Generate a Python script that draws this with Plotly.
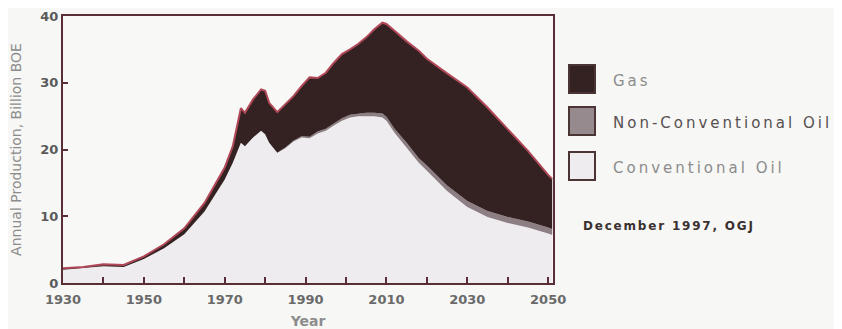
import plotly.graph_objects as go

years = [1930, 1935, 1940, 1945, 1950, 1955, 1960, 1965, 1970, 1972, 1974, 1975, 1977, 1979, 1980,
         1981, 1983, 1985, 1987, 1989, 1991, 1993, 1995, 1997, 1999, 2001, 2003, 2005, 2007, 2009,
         2010, 2012, 2015, 2018, 2020, 2025, 2030, 2035, 2040, 2045, 2050, 2051]

conventional_oil = [2.0, 2.2, 2.5, 2.4, 3.6, 5.2, 7.3, 10.7, 15.5, 18.0, 21.0, 20.5, 21.8, 22.8, 22.3,
                    21.0, 19.5, 20.2, 21.2, 21.8, 21.7, 22.4, 22.8, 23.6, 24.3, 24.8, 25.0, 25.0, 25.0, 24.8,
                    24.3, 22.5, 20.3, 18.0, 16.8, 13.8, 11.4, 9.9, 9.0, 8.3, 7.4, 7.2]

non_conventional_oil = [0, 0, 0, 0, 0, 0, 0, 0, 0, 0, 0, 0, 0, 0, 0,
                        0, 0, 0.1, 0.1, 0.2, 0.2, 0.3, 0.3, 0.3, 0.4, 0.4, 0.4, 0.5, 0.5, 0.6,
                        0.6, 0.6, 0.7, 0.7, 0.8, 0.8, 0.9, 0.9, 0.9, 0.9, 0.9, 0.9]

gas = [0.2, 0.2, 0.3, 0.3, 0.4, 0.6, 0.9, 1.3, 1.8, 2.5, 5.2, 5.0, 5.7, 6.2, 6.5,
       6.0, 6.1, 6.5, 6.7, 7.5, 8.9, 8.0, 8.4, 9.1, 9.6, 9.8, 10.4, 11.3, 12.5, 13.6,
       13.9, 14.7, 15.2, 16.1, 16.0, 16.8, 17.0, 15.5, 13.1, 10.6, 7.9, 7.5]

x_tick_vals = [1930, 1950, 1970, 1990, 2010, 2030, 2050]
x_tick_text = ["1930", "1950", "1970", "1990", "2010", "2030", "2050"]
y_tick_vals = [0, 10, 20, 30, 40]

legend_names = ["Gas", "Non-Conventional Oil", "Conventional Oil"]
legend_fills = ["#342222", "#978a8e", "#efecf0"]
legend_text_colors = ["#8c8c8c", "#585050", "#8c8c8c"]
source_note = "December 1997, OGJ"

# page places the figure 8px in from the top-left corner
OFF = 8
W, H = 842 - OFF, 329 - OFF
PL, PR, PT, PB = 63 - OFF, 553 - OFF, 16 - OFF, 283 - OFF  # plot area in figure px

fig = go.Figure()
fig.add_trace(go.Scatter(x=years, y=conventional_oil, name="Conventional Oil", stackgroup="one",
                         mode="lines", line=dict(width=0, color="#efecf0"), fillcolor="#efecf0",
                         showlegend=False))
fig.add_trace(go.Scatter(x=years, y=non_conventional_oil, name="Non-Conventional Oil", stackgroup="one",
                         mode="lines", line=dict(width=0, color="#8c7e82"), fillcolor="#8c7e82",
                         showlegend=False))
fig.add_trace(go.Scatter(x=years, y=gas, name="Gas", stackgroup="one",
                         mode="lines", line=dict(width=2, color="#b04858"), fillcolor="#342222",
                         showlegend=False))

axis_col = "#5a2e36"
fig.update_layout(
    width=W, height=H,
    margin=dict(l=PL, r=W - PR, t=PT, b=H - PB),
    paper_bgcolor="#f7f7f5",
    plot_bgcolor="#f8f8f7",
    showlegend=False,
    font=dict(family="DejaVu Sans", color="#666"),
    xaxis=dict(
        range=[1930, 2051.2], tickvals=x_tick_vals, ticktext=x_tick_text,
        automargin=False,
        showgrid=False, zeroline=False, showline=True, mirror=True,
        linecolor=axis_col, linewidth=2,
        ticks="inside", ticklen=6, tickwidth=2, tickcolor=axis_col,
        ticklabelstandoff=3,
        minor=dict(dtick=10, tick0=1930, ticks="inside", ticklen=6, tickwidth=2, tickcolor=axis_col, showgrid=False),
        tickfont=dict(family="DejaVu Sans", size=13, color="#6a6a6a", weight="bold"),
        title=dict(text="Year", font=dict(family="DejaVu Sans", size=14, color="#8c8c8c", weight="bold"), standoff=18),
    ),
    yaxis=dict(
        range=[0, 40], tickvals=y_tick_vals,
        automargin=False,
        showgrid=False, zeroline=False, showline=True, mirror=True,
        linecolor=axis_col, linewidth=2,
        ticks="inside", ticklen=5, tickwidth=2, tickcolor=axis_col,
        tickfont=dict(family="DejaVu Sans", size=13, color="#5a5a5a", weight="bold"),
        title=dict(text="Annual Production, Billion BOE", font=dict(family="DejaVu Sans", size=14, color="#8c8c8c"), standoff=15),
    ),
)

# Manual legend (paper coordinates, from reference page px)
def px_x(px):
    return (px - OFF - PL) / float(PR - PL)

def px_y(py):
    return (PB - (py - OFF)) / float(PB - PT)

rows = [(65, 93), (107, 135), (152, 180)]
for (top, bot), name, fill, tcol in zip(rows, legend_names, legend_fills, legend_text_colors):
    fig.add_shape(type="rect", xref="paper", yref="paper",
                  x0=px_x(569), x1=px_x(595), y0=px_y(bot), y1=px_y(top),
                  fillcolor=fill, line=dict(color="#4a3434", width=2))
    fig.add_annotation(xref="paper", yref="paper", x=px_x(611), y=px_y((top + bot) / 2 + 2),
                       xanchor="left", yanchor="middle", showarrow=False,
                       text='<span style="letter-spacing:3px">' + name + '</span>',
                       font=dict(family="DejaVu Sans", size=15, color=tcol))

fig.add_annotation(xref="paper", yref="paper", x=px_x(581), y=px_y(226),
                   xanchor="left", yanchor="middle", showarrow=False,
                   text='<span style="letter-spacing:1.8px">' + source_note + '</span>',
                   font=dict(family="DejaVu Sans", size=12, color="#3a3030", weight="bold"))

fig.write_html("out.html")
